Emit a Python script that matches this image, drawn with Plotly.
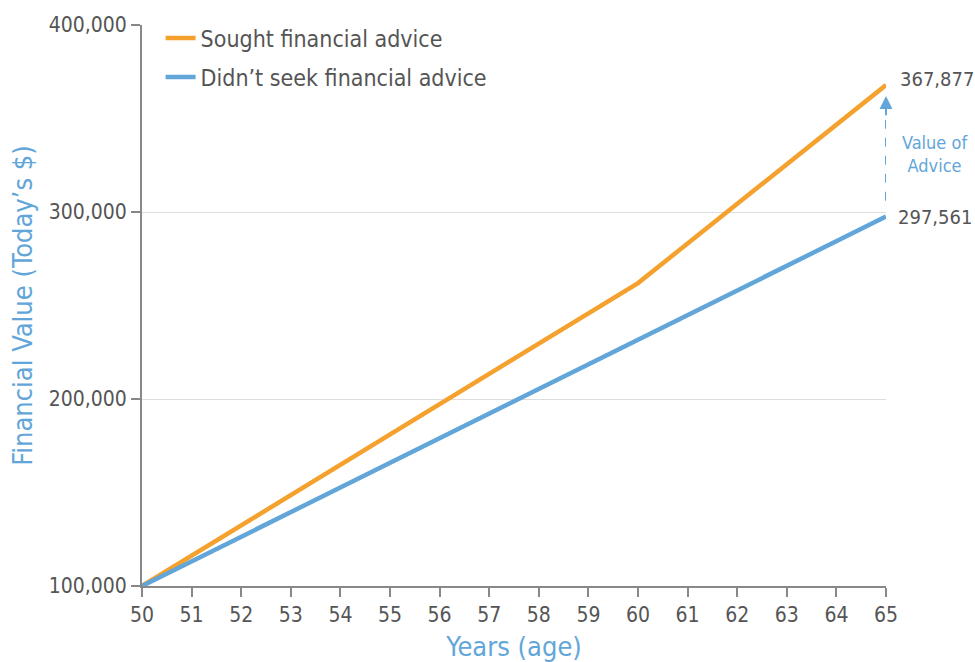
import plotly.graph_objects as go

ages = list(range(50, 66))
sought = [100000, 116200, 132400, 148600, 164800, 181000, 197200, 213400, 229600, 245800, 262000,
          283175, 304350, 325525, 346700, 367877]
not_sought = [100000, 113171, 126341, 139512, 152683, 165854, 179024, 192195, 205366, 218537, 231707,
              244878, 258049, 271220, 284390, 297561]
y_ticks = [100000, 200000, 300000, 400000]
x_ticks = ages

ORANGE = "#f4a12e"
BLUE = "#62a6d9"
GRAY = "#555555"
FONT = "DejaVu Sans Condensed, Liberation Sans Narrow, Roboto, sans-serif"

fig = go.Figure()
fig.add_trace(go.Scatter(x=ages, y=sought, mode="lines", name="Sought financial advice",
                         legendgroup="a", line=dict(color=ORANGE, width=4.5)))
fig.add_trace(go.Scatter(x=ages, y=not_sought, mode="lines", name="Didn’t seek financial advice",
                         legendgroup="b", line=dict(color=BLUE, width=4.5)))

# end value labels
fig.add_annotation(x=ages[-1], y=sought[-1], text=f"{sought[-1]:,}", showarrow=False,
                   xanchor="left", xshift=12, yshift=6, font=dict(size=20, color=GRAY, family=FONT))
fig.add_annotation(x=ages[-1], y=not_sought[-1], text=f"{not_sought[-1]:,}", showarrow=False,
                   xanchor="left", xshift=10, yshift=0, font=dict(size=20, color=GRAY, family=FONT))

# value of advice arrow (dashed)
fig.add_shape(type="line", x0=ages[-1], x1=ages[-1], y0=306000, y1=352000,
              line=dict(color=BLUE, width=2, dash="dash"))
fig.add_annotation(x=ages[-1], y=362000, ax=ages[-1], ay=351000, xref="x", yref="y",
                   axref="x", ayref="y", showarrow=True, arrowhead=2, arrowsize=1.3,
                   arrowwidth=2, arrowcolor=BLUE, text="")
fig.add_annotation(x=ages[-1], y=331000, text="Value of<br>Advice", showarrow=False,
                   xanchor="left", xshift=14, font=dict(size=18, color=BLUE, family=FONT),
                   align="center")

fig.update_layout(
    width=975, height=662,
    margin=dict(l=142, r=89, t=25, b=76, autoexpand=False),
    plot_bgcolor="white", paper_bgcolor="white",
    font=dict(family=FONT, color=GRAY, size=21),
    legend=dict(x=0.025, y=1.015, xanchor="left", yanchor="top", bgcolor="rgba(0,0,0,0)",
                traceorder="grouped", tracegroupgap=6,
                font=dict(size=23, color=GRAY, family=FONT), itemwidth=30),
    showlegend=True,
)
fig.update_xaxes(range=[50, 65], tickmode="array", tickvals=x_ticks, ticktext=[str(a) for a in x_ticks],
                 showgrid=False, showline=True, linecolor="#888888", linewidth=2,
                 ticks="outside", ticklen=9, tickcolor="#888888", tickwidth=1.5,
                 tickfont=dict(size=21, color=GRAY, family=FONT), automargin=False,
                 title=dict(text="Years (age)", font=dict(size=27, color=BLUE, family=FONT), standoff=14),
                 zeroline=False)
fig.update_yaxes(range=[100000, 400000], tickmode="array", tickvals=y_ticks,
                 ticktext=[f"{v:,}" for v in y_ticks],
                 showgrid=True, gridcolor="#dddddd", gridwidth=1,
                 showline=True, linecolor="#888888", linewidth=2,
                 ticks="outside", ticklen=9, tickcolor="#888888", tickwidth=1.5,
                 tickfont=dict(size=21, color=GRAY, family=FONT), automargin=False,
                 title=dict(text="Financial Value (Today’s $)", font=dict(size=27, color=BLUE, family=FONT),
                            standoff=8),
                 zeroline=False)

fig.write_html("out.html")
